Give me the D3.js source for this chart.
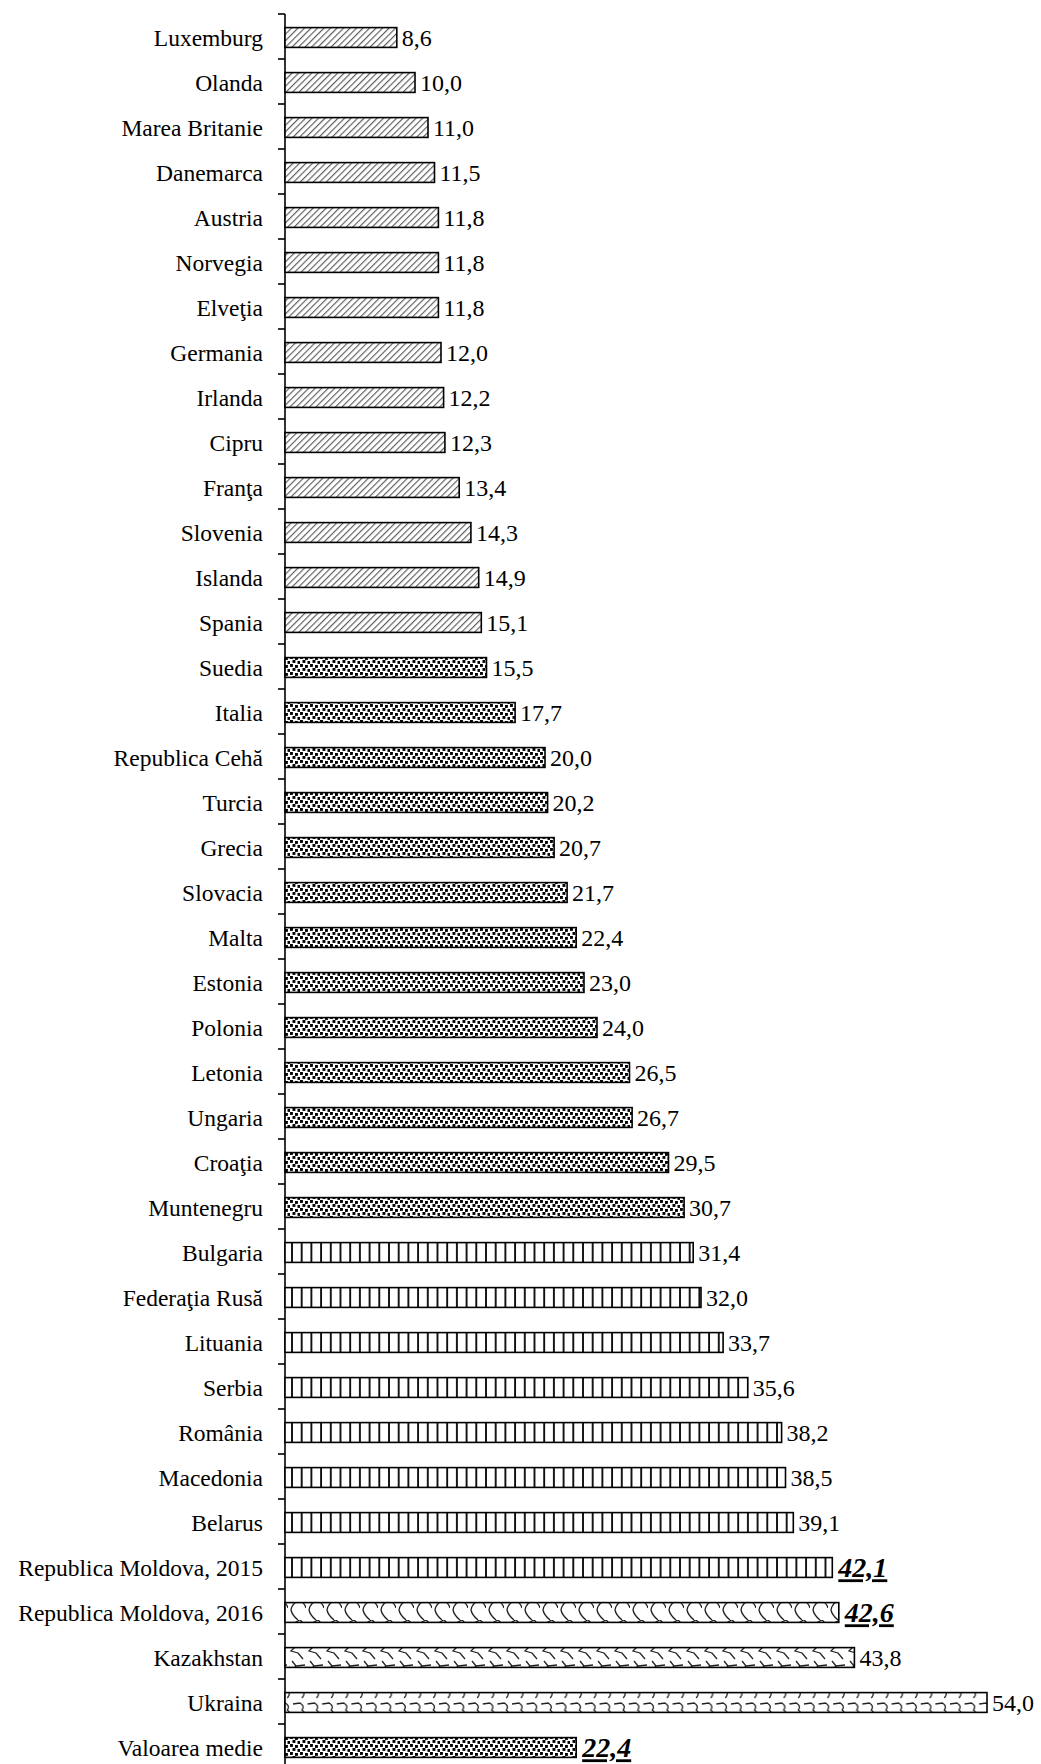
<!DOCTYPE html>
<html>
<head>
<meta charset="utf-8">
<script src="https://cdn.jsdelivr.net/npm/d3@7"></script>
<style>
  body { margin: 0; background: #fff; }
  svg { display: block; font-family: "Liberation Serif", "Times New Roman", serif; }
</style>
</head>
<body>
<svg id="chart" width="1041" height="1764"></svg>
<script>
// categories, top to bottom
const countries = [
  "Luxemburg", "Olanda", "Marea Britanie", "Danemarca", "Austria", "Norvegia",
  "Elveţia", "Germania", "Irlanda", "Cipru", "Franţa", "Slovenia", "Islanda",
  "Spania", "Suedia", "Italia", "Republica Cehă", "Turcia", "Grecia", "Slovacia",
  "Malta", "Estonia", "Polonia", "Letonia", "Ungaria", "Croaţia", "Muntenegru",
  "Bulgaria", "Federaţia Rusă", "Lituania", "Serbia", "România", "Macedonia",
  "Belarus", "Republica Moldova, 2015", "Republica Moldova, 2016", "Kazakhstan",
  "Ukraina", "Valoarea medie"
];
const values = [
  8.6, 10.0, 11.0, 11.5, 11.8, 11.8, 11.8, 12.0, 12.2, 12.3, 13.4, 14.3, 14.9,
  15.1, 15.5, 17.7, 20.0, 20.2, 20.7, 21.7, 22.4, 23.0, 24.0, 26.5, 26.7, 29.5,
  30.7, 31.4, 32.0, 33.7, 35.6, 38.2, 38.5, 39.1, 42.1, 42.6, 43.8, 54.0, 22.4
];
// fill pattern of each bar
const fills = [
  "hatch", "hatch", "hatch", "hatch", "hatch", "hatch", "hatch", "hatch", "hatch",
  "hatch", "hatch", "hatch", "hatch", "hatch",
  "dots", "dots", "dots", "dots", "dots", "dots", "dots", "dots", "dots", "dots",
  "dots", "dots", "dots",
  "vert", "vert", "vert", "vert", "vert", "vert", "vert", "vert",
  "scale", "shingle", "wave", "dots"
];
// labels shown bold, italic and underlined
const highlighted = ["Republica Moldova, 2015", "Republica Moldova, 2016", "Valoarea medie"];

const data = countries.map((c, i) => ({ name: c, value: values[i], fill: fills[i] }));

const svg = d3.select("#chart");
const defs = svg.append("defs");

function tile(id, w, h) {
  const p = defs.append("pattern").attr("id", id).attr("patternUnits", "userSpaceOnUse")
    .attr("width", w).attr("height", h);
  p.append("rect").attr("width", w).attr("height", h).attr("fill", "#fff");
  return p;
}

// diagonal hatch
let p = defs.append("pattern").attr("id", "hatch").attr("patternUnits", "userSpaceOnUse")
  .attr("width", 4.6).attr("height", 6).attr("patternTransform", "rotate(45)");
p.append("rect").attr("width", 4.6).attr("height", 6).attr("fill", "#fff");
p.append("line").attr("x1", 0.6).attr("y1", 0).attr("x2", 0.6).attr("y2", 6)
  .attr("stroke", "#555").attr("stroke-width", 1.1);

// small squares
p = tile("dots", 10, 8);
[[0, 0], [5, 1], [2.5, 4], [7.5, 5]].forEach(([x, y]) => {
  p.append("rect").attr("x", x).attr("y", y).attr("width", 2.9).attr("height", 2.9).attr("fill", "#000");
});

// vertical lines
p = tile("vert", 9.7, 10);
p.append("line").attr("x1", 1).attr("y1", 0).attr("x2", 1).attr("y2", 10)
  .attr("stroke", "#000").attr("stroke-width", 1.8);

// scales
p = tile("scale", 18, 20);
p.append("path").attr("d", "M12,0 Q4,3 3,10 Q4,15 10,20 M12,0 Q17,4 18,8")
  .attr("fill", "none").attr("stroke", "#222").attr("stroke-width", 1.3);

// shingles
p = tile("shingle", 18, 20);
p.append("path").attr("d", "M4,1 L8,6 L17,5 M8,6 L3,11 L10,13 L15,19")
  .attr("fill", "none").attr("stroke", "#222").attr("stroke-width", 1.3);

// waves
p = tile("wave", 14.6, 20);
p.append("path").attr("d", "M1,4 L8,3 Q13,6 10,10 Q14,13 10,18")
  .attr("fill", "none").attr("stroke", "#222").attr("stroke-width", 1.3);

const x = d3.scaleLinear().domain([0, 54]).range([285, 987]);
const y = d3.scaleBand().domain(countries).range([15, 1770]).paddingInner(0.56).paddingOuter(0.28);

// axis with ticks between categories
const axisX = 285;
const step = y.step();
const axisTop = 14;
svg.append("line").attr("x1", axisX).attr("x2", axisX).attr("y1", axisTop).attr("y2", 1764)
  .attr("stroke", "#000").attr("stroke-width", 1.6);
d3.range(countries.length).forEach(i => {
  const ty = axisTop + i * step;
  svg.append("line").attr("x1", axisX - 7).attr("x2", axisX).attr("y1", ty).attr("y2", ty)
    .attr("stroke", "#000").attr("stroke-width", 1.6);
});

// category labels
svg.selectAll(".cat").data(data).enter().append("text")
  .attr("class", "cat")
  .attr("x", 263)
  .attr("y", d => y(d.name) + y.bandwidth() / 2)
  .attr("dy", "0.35em")
  .attr("text-anchor", "end")
  .attr("font-size", 23.5)
  .text(d => d.name);

// bars
svg.selectAll(".bar").data(data).enter().append("rect")
  .attr("class", "bar")
  .attr("x", x(0))
  .attr("y", d => y(d.name))
  .attr("width", d => x(d.value) - x(0))
  .attr("height", y.bandwidth())
  .attr("fill", d => `url(#${d.fill})`)
  .attr("stroke", "#000")
  .attr("stroke-width", 1.6);

// value labels
const fmt = v => v.toFixed(1).replace(".", ",");
svg.selectAll(".val").data(data).enter().append("text")
  .attr("class", "val")
  .attr("x", d => x(d.value) + (highlighted.includes(d.name) ? 6 : 5))
  .attr("y", d => y(d.name) + y.bandwidth() / 2)
  .attr("dy", "0.35em")
  .attr("font-size", d => highlighted.includes(d.name) ? 28 : 24)
  .attr("font-weight", d => highlighted.includes(d.name) ? "bold" : "normal")
  .attr("font-style", d => highlighted.includes(d.name) ? "italic" : "normal")
  .attr("text-decoration", d => highlighted.includes(d.name) ? "underline" : "none")
  .text(d => fmt(d.value));
</script>
</body>
</html>
